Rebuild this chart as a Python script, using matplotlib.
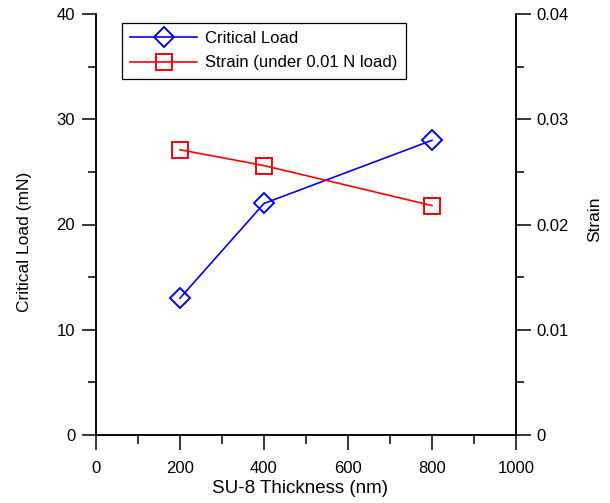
import matplotlib
matplotlib.use("Agg")
import matplotlib.pyplot as plt
from matplotlib.ticker import MultipleLocator, FuncFormatter

plt.rcParams['font.family'] = ['Liberation Sans', 'DejaVu Sans']

thickness = [200, 400, 800]
critical_load = [13.0, 22.0, 28.0]
strain = [0.0271, 0.0256, 0.0218]

W, H = 610, 503
fig = plt.figure(figsize=(W / 100, H / 100), dpi=100)
x0, x1, yb, yt = 96, 516, 435, 14
ax = fig.add_axes([x0 / W, 1 - yb / H, (x1 - x0) / W, (yb - yt) / H])
ax2 = ax.twinx()

l1, = ax.plot(thickness, critical_load, color='#0000ff', lw=1.2, marker='D', ms=10,
              mfc='none', mec='#0000ff', mew=1.4, label='Critical Load')
l2, = ax2.plot(thickness, strain, color='#ff0000', lw=1.2, marker='s', ms=11,
               mfc='none', mec='#ff0000', mew=1.4, label='Strain (under 0.01 N load)')

ax.set_xlim(0, 1000)
ax.set_ylim(0, 40)
ax2.set_ylim(0, 0.04)

ax.xaxis.set_major_locator(MultipleLocator(200))
ax.xaxis.set_minor_locator(MultipleLocator(100))
ax.yaxis.set_major_locator(MultipleLocator(10))
ax.yaxis.set_minor_locator(MultipleLocator(5))
ax2.yaxis.set_major_locator(MultipleLocator(0.01))
ax2.yaxis.set_minor_locator(MultipleLocator(0.005))
ax2.yaxis.set_major_formatter(FuncFormatter(
    lambda v, p: '0' if abs(v) < 1e-12 else f'{v:.2f}'))

for a in (ax, ax2):
    a.spines['top'].set_visible(False)
    for s in a.spines.values():
        s.set_linewidth(1.1)

ax.tick_params(axis='x', which='major', direction='out', length=11, width=1.1, pad=8, labelsize=12)
ax.tick_params(axis='x', which='minor', direction='out', length=6.5, width=1.1)
ax.tick_params(axis='y', which='major', direction='out', length=10, width=1.1, pad=5, labelsize=12)
ax.tick_params(axis='y', which='minor', direction='out', length=6, width=1.1)
ax2.tick_params(axis='y', which='major', direction='out', length=11, width=1.1, pad=3.5, labelsize=12)
ax2.tick_params(axis='y', which='minor', direction='out', length=6, width=1.1)

ax.set_xlabel('SU-8 Thickness (nm)', fontsize=13.5)
ax.set_ylabel('Critical Load (mN)', fontsize=12.5)
ax2.set_ylabel('Strain', fontsize=12.5, rotation=90)
ax.xaxis.set_label_coords(0.486, (yb - 480) / (yb - yt))
ax.yaxis.set_label_coords((32 - x0) / (x1 - x0), 0.458)
ax2.yaxis.set_label_coords((587 - x0) / (x1 - x0), 0.513)

leg = fig.legend(handles=[l1, l2], loc='upper left',
                 bbox_to_anchor=(122 / W, 1 - 23 / H), bbox_transform=fig.transFigure,
                 fontsize=12, frameon=True, fancybox=False, shadow=False,
                 handlelength=4.0, handletextpad=0.5, borderaxespad=0,
                 borderpad=0.5, labelspacing=0.55, framealpha=1)
leg.get_frame().set_edgecolor('black')
leg.get_frame().set_linewidth(0.9)

fig.savefig('out.png', dpi=100)
